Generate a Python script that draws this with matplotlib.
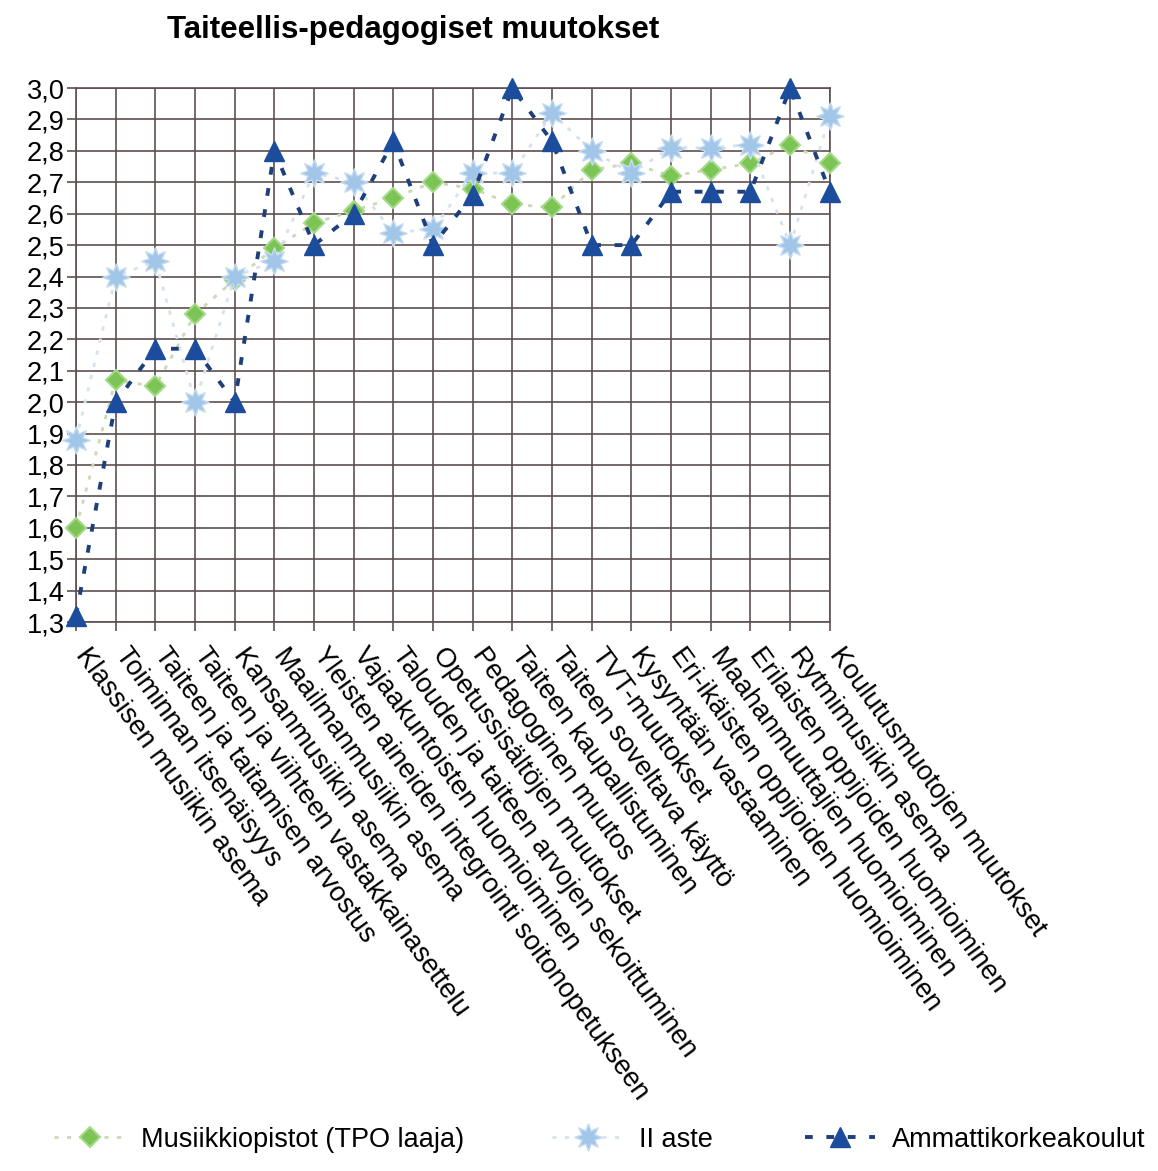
import numpy as np
import matplotlib
matplotlib.use("Agg")
import matplotlib.pyplot as plt
from matplotlib.transforms import ScaledTranslation

# categories along the x axis
categories = ["Klassisen musiikin asema", "Toiminnan itsenäisyys",
              "Taiteen ja taitamisen arvostus", "Taiteen ja viihteen vastakkainasettelu",
              "Kansanmusiikin asema", "Maailmanmusiikin asema",
              "Yleisten aineiden integrointi soitonopetukseen", "Vajaakuntoisten huomioiminen",
              "Talouden ja taiteen arvojen sekoittuminen", "Opetussisältöjen muutokset",
              "Pedagoginen muutos", "Taiteen kaupallistuminen", "Taiteen soveltava käyttö",
              "TVT-muutokset", "Kysyntään vastaaminen", "Eri-ikäisten oppijoiden huomioiminen",
              "Maahanmuuttajien huomioiminen", "Erilaisten oppijoiden huomioiminen",
              "Rytmimusiikin asema", "Koulutusmuotojen muutokset"]

musiikkiopistot = [1.60, 2.07, 2.05, 2.28, 2.39, 2.49, 2.57, 2.61, 2.65, 2.70,
                   2.68, 2.63, 2.62, 2.74, 2.76, 2.72, 2.74, 2.76, 2.82, 2.76]
ii_aste = [1.88, 2.40, 2.45, 2.00, 2.40, 2.45, 2.73, 2.70, 2.54, 2.55,
           2.73, 2.73, 2.92, 2.80, 2.73, 2.81, 2.81, 2.82, 2.50, 2.91]
amk = [1.32, 2.00, 2.17, 2.17, 2.00, 2.80, 2.50, 2.60, 2.83, 2.50,
       2.66, 3.00, 2.83, 2.50, 2.50, 2.67, 2.67, 2.67, 3.00, 2.67]

series_names = ["Musiikkiopistot (TPO laaja)", "II aste", "Ammattikorkeakoulut"]
yticks = [1.3, 1.4, 1.5, 1.6, 1.7, 1.8, 1.9, 2.0, 2.1, 2.2, 2.3, 2.4,
          2.5, 2.6, 2.7, 2.8, 2.9, 3.0]
ytick_labels = [f"{v:.1f}".replace(".", ",") for v in yticks]

plt.rcParams['font.family'] = ['Liberation Sans', 'DejaVu Sans']

fig = plt.figure(figsize=(11.58, 11.71), dpi=100)
ax = fig.add_axes([0.0656, 0.4688, 0.651, 0.456])

x = np.arange(len(categories))
grid_col = "#5e4f4f"

l1, = ax.plot(x, musiikkiopistot, linestyle=(0, (1.5, 3)), color="#cdd8b4", lw=2,
              marker="D", ms=10, mfc="#7cc454", mec="#a5d98a", mew=1.5,
              clip_on=False, zorder=3)
l2, = ax.plot(x, ii_aste, linestyle=(0, (1.5, 3)), color="#d5e3f0", lw=2,
              marker=(8, 1, 0), ms=20, mfc="#a2c6e8", mec="#c5dcf2", mew=1,
              clip_on=False, zorder=3)
l3, = ax.plot(x, amk, linestyle=(0, (2, 3.5)), color="#1d3f7a", lw=2.8,
              marker="^", ms=14, mfc="#1c4d9c", mec="#1c4d9c",
              clip_on=False, zorder=4)

ax.set_xlim(0, len(categories) - 1)
ax.set_ylim(1.3, 3.0)
ax.set_yticks(yticks)
ax.set_yticklabels(ytick_labels, fontsize=19.5)
ax.set_xticks(x)
ax.set_xticklabels(categories, rotation=-54, ha="left", va="top",
                   rotation_mode="anchor", fontsize=19.5)
ax.tick_params(axis="both", direction="out", length=6.5, width=1.2,
               color=grid_col)
ax.tick_params(axis="y", pad=1.5)
ax.tick_params(axis="x", pad=2)
# move the slanted labels a little right and down
shift = ScaledTranslation(0.15, -0.09, fig.dpi_scale_trans)
for lab in ax.get_xticklabels():
    lab.set_transform(lab.get_transform() + shift)
ax.grid(True, color=grid_col, lw=1.2)
ax.set_axisbelow(True)
for s in ax.spines.values():
    s.set_color(grid_col)
    s.set_linewidth(1.2)

fig.text(0.357, 0.974, "Taiteellis-pedagogiset muutokset", fontsize=22.5,
         fontweight="bold", ha="center", va="center")

# legend entries placed one by one, as in the original
for handle, name, xpos in zip([l1, l2, l3], series_names, [0.047, 0.477, 0.695]):
    fig.legend([handle], [name], loc="center left", bbox_to_anchor=(xpos, 0.0265),
               frameon=False, fontsize=19.5, handlelength=2.6, handletextpad=0.6,
               borderpad=0, borderaxespad=0)

fig.savefig("out.png", dpi=100, facecolor="white")
